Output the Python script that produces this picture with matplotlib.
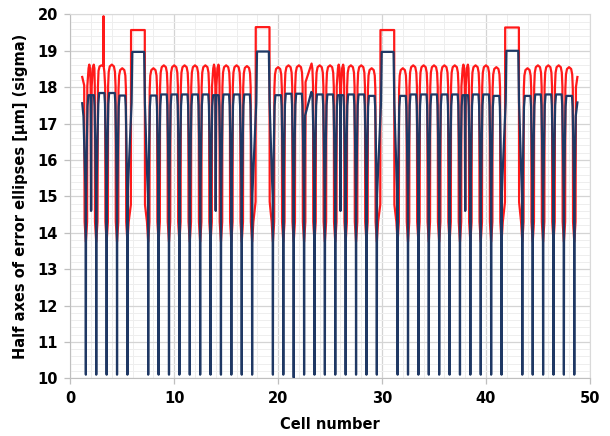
import matplotlib
matplotlib.use("Agg")
import matplotlib.pyplot as plt
from matplotlib.ticker import MultipleLocator

# ---------------- data ----------------
# x positions (cell number) of the deep minima of both curves
dip_x = [1.5, 2.5, 3.5, 4.5, 5.5,
         7.5, 8.5, 9.5, 10.5, 11.5, 12.5, 13.5, 14.5, 15.5, 16.5, 17.5,
         19.5, 20.5, 21.5, 22.5, 23.5, 24.5, 25.5, 26.5, 27.5, 28.5, 29.5,
         31.5, 32.5, 33.5, 34.5, 35.5, 36.5, 37.5, 38.5, 39.5, 40.5, 41.5,
         43.5, 44.5, 45.5, 46.5, 47.5, 48.5]
blue_dip_bottom = [10.1, 10.1, 10.1, 10.1, 10.1,
                   10.1, 10.1, 10.1, 10.1, 10.1, 10.1, 10.1, 10.1, 10.1, 10.1, 10.1,
                   10.1, 10.1, 10.02, 10.1, 10.1, 10.1, 10.1, 10.1, 10.1, 10.1, 10.1,
                   10.1, 10.1, 10.1, 10.1, 10.1, 10.1, 10.1, 10.1, 10.1, 10.1, 10.1,
                   10.1, 10.1, 10.1, 10.1, 10.1, 10.1]
red_dip_bottom = 13.75

# shape of each cell between two minima
cell_kind = ["double", "spike", "normal", "normal", "flat",
             "normal", "normal", "normal", "normal", "normal", "normal", "double",
             "normal", "normal", "normal", "flat",
             "normal", "normal", "normal", "sloped", "normal", "normal", "double",
             "normal", "normal", "normal", "flat",
             "normal", "normal", "normal", "normal", "normal", "normal", "double",
             "normal", "normal", "normal", "flat",
             "normal", "normal", "normal", "normal", "normal"]

red_top = [18.62, 18.6, 18.62, 18.52, 19.57,
           18.52, 18.6, 18.6, 18.6, 18.6, 18.6, 18.62, 18.6, 18.6, 18.58, 19.65,
           18.55, 18.6, 18.6, 18.65, 18.6, 18.6, 18.62, 18.6, 18.6, 18.52, 19.57,
           18.52, 18.6, 18.6, 18.6, 18.6, 18.6, 18.62, 18.6, 18.6, 18.55, 19.64,
           18.52, 18.6, 18.6, 18.6, 18.55]
blue_top = [17.78, 17.84, 17.84, 17.77, 18.97,
            17.77, 17.8, 17.8, 17.8, 17.8, 17.8, 17.78, 17.8, 17.8, 17.8, 18.98,
            17.78, 17.82, 17.82, 17.87, 17.8, 17.8, 17.78, 17.8, 17.8, 17.76, 18.97,
            17.76, 17.8, 17.8, 17.8, 17.8, 17.8, 17.78, 17.8, 17.8, 17.76, 19.0,
            17.76, 17.8, 17.8, 17.8, 17.76]

# start / end of the curves
red_lead_in_x = [1.15, 1.34]
red_lead_in = [18.28, 18.05]
blue_lead_in_x = [1.15, 1.27]
blue_lead_in = [17.56, 17.2]
red_lead_out_x = [48.66, 48.8]
red_lead_out = [18.0, 18.28]
blue_lead_out_x = [48.64, 48.8]
blue_lead_out = [17.2, 17.58]

# points next to every minimum: (distance from minimum, value)
red_near = (0.12, 14.3)
blue_near = (0.02, 15.0)

# cell profiles: fraction of cell width, offset from the cell top value
red_shape = {
    "normal": ([0.14, 0.2, 0.3, 0.5, 0.7, 0.8, 0.86],
               [-0.6, -0.2, -0.05, 0.0, -0.05, -0.2, -0.6]),
    "spike": ([0.16, 0.22, 0.32, 0.5, 0.69, 0.7, 0.71, 0.78, 0.86],
              [-0.6, -0.15, -0.03, 0.0, -0.02, 1.35, -0.02, -0.18, -0.6]),
    "flat": ([0.165, 0.175, 0.835, 0.845],
             [-4.8, 0.0, 0.0, -4.8]),
    "double": ([0.14, 0.26, 0.33, 0.4, 0.46, 0.5, 0.56, 0.66, 0.76, 0.82, 0.86],
               [-0.6, -0.1, 0.0, -0.1, -0.6, -4.0, -0.6, -0.1, 0.0, -0.1, -0.6]),
    "sloped": ([0.14, 0.72, 0.8, 0.86],
               [-0.51, 0.0, -0.15, -0.6]),
}
blue_shape = {
    "normal": ([0.1, 0.16, 0.24, 0.78, 0.84, 0.9],
               [-1.2, -0.3, 0.0, 0.0, -0.3, -1.2]),
    "spike": ([0.12, 0.2, 0.28, 0.78, 0.84, 0.9],
              [-1.2, -0.3, 0.0, 0.0, -0.3, -1.2]),
    "flat": ([0.05, 0.2, 0.235, 0.805, 0.84, 0.95],
             [-3.4, -1.4, 0.0, 0.0, -1.4, -3.4]),
    "double": ([0.1, 0.16, 0.24, 0.46, 0.48, 0.5, 0.52, 0.54, 0.78, 0.84, 0.9],
               [-1.2, -0.3, 0.0, 0.0, -0.6, -3.18, -0.6, 0.0, 0.0, -0.3, -1.2]),
    "sloped": ([0.1, 0.7, 0.8, 0.9],
               [-0.65, 0.0, -0.05, -1.2]),
}

x_ticks = [0, 10, 20, 30, 40, 50]
y_ticks = [10, 11, 12, 13, 14, 15, 16, 17, 18, 19, 20]
x_label = "Cell number"
y_label = "Half axes of error ellipses [µm] (sigma)"


def build(top, shapes, bottoms, near, lead_in_x, lead_in, lead_out_x, lead_out):
    ndx, ny = near
    xs = list(lead_in_x) + [dip_x[0] - ndx]
    ys = list(lead_in) + [ny]
    for i in range(len(dip_x) - 1):
        a, b = dip_x[i], dip_x[i + 1]
        w = b - a
        xs += [a, a + ndx]
        ys += [bottoms[i], ny]
        ts, offs = shapes[cell_kind[i]]
        xs += [a + w * t for t in ts]
        ys += [top[i] + o for o in offs]
        xs += [b - ndx]
        ys += [ny]
    xs += [dip_x[-1], dip_x[-1] + ndx] + list(lead_out_x)
    ys += [bottoms[-1], ny] + list(lead_out)
    return xs, ys


rx, ry = build(red_top, red_shape, [red_dip_bottom] * len(dip_x), red_near,
               red_lead_in_x, red_lead_in, red_lead_out_x, red_lead_out)
bx, by = build(blue_top, blue_shape, blue_dip_bottom, blue_near,
               blue_lead_in_x, blue_lead_in, blue_lead_out_x, blue_lead_out)

fig = plt.figure(figsize=(6.10, 4.36), dpi=100)
ax = fig.add_axes([0.1152, 0.1323, 0.967 - 0.1152, 0.967 - 0.1323])

ax.plot(rx, ry, color="#ff1a1a", lw=1.6, solid_joinstyle="round", zorder=3)
ax.plot(bx, by, color="#1f3864", lw=1.6, solid_joinstyle="round", zorder=4)

ax.set_xlim(0, 50)
ax.set_ylim(10, 20)
ax.set_xticks(x_ticks)
ax.set_yticks(y_ticks)
ax.xaxis.set_minor_locator(MultipleLocator(2))
ax.yaxis.set_minor_locator(MultipleLocator(0.2))
ax.grid(which="major", color="#d4d4d4", lw=0.9, zorder=0)
ax.grid(which="minor", color="#eeeeee", lw=0.7, zorder=0)
ax.set_axisbelow(True)
ax.tick_params(which="minor", length=0)
ax.tick_params(which="major", length=4, color="#bfbfbf", width=0.9,
               labelsize=10.5, pad=5)
for lab in ax.get_xticklabels() + ax.get_yticklabels():
    lab.set_fontweight("bold")
for s in ax.spines.values():
    s.set_color("#d9d9d9")
ax.spines["left"].set_color("#bfbfbf")
ax.spines["bottom"].set_color("#bfbfbf")

ax.set_xlabel(x_label, fontsize=10.5, fontweight="bold", labelpad=8)
ax.set_ylabel(y_label, fontsize=10.5, fontweight="bold", labelpad=7)

fig.savefig("out.png", dpi=100)
